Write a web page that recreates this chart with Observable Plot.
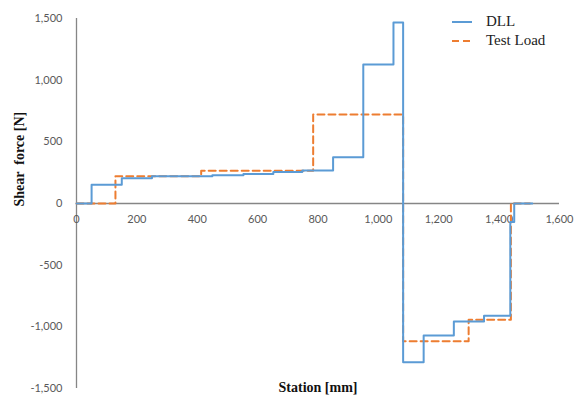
<!DOCTYPE html>
<html>
<head>
<meta charset="utf-8">
<script src="https://cdn.jsdelivr.net/npm/d3@7"></script>
<script src="https://cdn.jsdelivr.net/npm/@observablehq/plot@0.6"></script>
<style>
  html, body { margin: 0; padding: 0; background: #fff; }
  #wrap { position: relative; width: 580px; height: 400px; }
  #legend { position: absolute; left: 452px; top: 12px; font-family: "Liberation Serif", "DejaVu Serif", serif; font-size: 15px; color: #222; line-height: 19px; }
  #legend div { display: flex; align-items: center; }
  #legend svg { margin-right: 14px; }
</style>
</head>
<body>
<div id="wrap">
  <div id="chart"></div>
  <div id="legend"></div>
</div>
<script>
const dllStation = [0, 50, 150, 250, 450, 553, 652, 748, 850, 950, 1050, 1082, 1150, 1250, 1350, 1437, 1450, 1510];
const dllShear   = [0, 152, 205, 221, 230, 240, 256, 268, 375, 1127, 1468, -1287, -1070, -957, -911, -150, 0, 0];
const testStation = [0, 129, 413, 784, 1082, 1299, 1439, 1502];
const testShear   = [0, 221, 266, 722, -1117, -943, 0, 0];
const xTicks = [0, 200, 400, 600, 800, 1000, 1200, 1400, 1600];
const yTicks = [-1500, -1000, -500, 0, 500, 1000, 1500];
const seriesNames = ["DLL", "Test Load"];
const seriesColors = ["#5B9BD5", "#ED7D31"];

const dll = dllStation.map((x, i) => ({x, y: dllShear[i]}));
const test = testStation.map((x, i) => ({x, y: testShear[i]}));
const fmt = d => d.toLocaleString("en-US");

const chart = Plot.plot({
  width: 580,
  height: 400,
  marginLeft: 76,
  marginRight: 21,
  marginTop: 18,
  marginBottom: 12,
  style: {fontFamily: "Lato, sans-serif", fontSize: "11px", color: "#595959", background: "#fff"},
  x: {domain: [0, 1600], axis: null},
  y: {domain: [-1500, 1500]},
  marks: [
    Plot.axisY(yTicks, {tickSize: 0, tickPadding: 14, tickFormat: fmt, label: null, fill: "#595959", fontSize: 11}),
    Plot.ruleY([0], {x1: 0, x2: 1600, stroke: "#868686", strokeWidth: 1.3}),
    Plot.ruleX([0], {y1: -1500, y2: 1500, stroke: "#868686", strokeWidth: 1.3}),
    Plot.text(xTicks, {x: d => d, y: 0, dy: 16, text: d => fmt(d), fill: "#595959", fontSize: 11}),
    Plot.line(test, {x: "x", y: "y", curve: "step-after", stroke: seriesColors[1], strokeWidth: 2, strokeDasharray: "7,4"}),
    Plot.line(dll, {x: "x", y: "y", curve: "step-after", stroke: seriesColors[0], strokeWidth: 2}),
    Plot.text(["Shear  force [N]"], {frameAnchor: "left", rotate: -90, dx: -57, dy: 3, fontFamily: "Liberation Serif, serif", fontWeight: "bold", fontSize: 14, fill: "#111"}),
    Plot.text(["Station [mm]"], {frameAnchor: "bottom", dy: 3, fontFamily: "Liberation Serif, serif", fontWeight: "bold", fontSize: 14, fill: "#111"})
  ]
});
document.getElementById("chart").appendChild(chart);

const legend = document.getElementById("legend");
seriesNames.forEach((name, i) => {
  const row = document.createElement("div");
  const dash = i === 1 ? 'stroke-dasharray="7,4"' : '';
  row.innerHTML = `<svg width="20" height="10"><line x1="0" y1="5" x2="20" y2="5" stroke="${seriesColors[i]}" stroke-width="2" ${dash}/></svg><span>${name}</span>`;
  legend.appendChild(row);
});
</script>
</body>
</html>
